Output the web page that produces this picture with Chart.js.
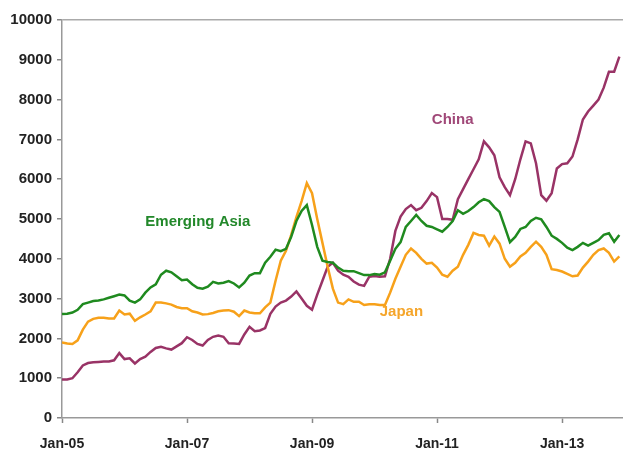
<!DOCTYPE html>
<html>
<head>
<meta charset="utf-8">
<script src="https://cdn.jsdelivr.net/npm/chart.js@4/dist/chart.umd.min.js"></script>
<style>
  html, body { margin: 0; padding: 0; background: #fff; }
  #wrap { width: 623px; height: 452px; }
</style>
</head>
<body>
<div id="wrap"><canvas id="c" width="623" height="452"></canvas></div>
<script>
// Monthly, Jan-05 .. Dec-13
const months = [];
const monNames = ['Jan','Feb','Mar','Apr','May','Jun','Jul','Aug','Sep','Oct','Nov','Dec'];
for (let y = 5; y <= 13; y++) for (let m = 0; m < 12; m++) months.push(monNames[m] + '-' + String(y).padStart(2, '0'));

const emergingAsia = [
  2610,2620,2650,2720,2860,2900,2940,2950,2980,3020,3060,3100,
  3080,2950,2900,2980,3150,3280,3360,3600,3700,3660,3560,3460,
  3480,3360,3270,3250,3300,3420,3380,3400,3440,3380,3280,3400,
  3580,3640,3640,3900,4050,4230,4190,4250,4550,4950,5200,5350,
  4850,4300,3950,3920,3900,3780,3700,3690,3690,3640,3590,3590,
  3620,3600,3660,3950,4250,4420,4800,4950,5100,4950,4830,4800,
  4740,4680,4800,4950,5220,5130,5200,5300,5420,5500,5450,5300,
  5180,4800,4420,4550,4750,4800,4950,5030,4990,4800,4580,4500,
  4400,4280,4220,4300,4400,4330,4400,4470,4600,4640,4430,4600
];
const japan = [
  1900,1870,1860,1950,2220,2420,2490,2520,2520,2500,2500,2700,
  2600,2620,2440,2530,2600,2680,2900,2900,2880,2850,2790,2760,
  2760,2680,2650,2600,2610,2640,2680,2700,2710,2670,2560,2700,
  2650,2630,2630,2780,2900,3450,3950,4200,4600,5050,5450,5900,
  5650,5000,4400,3800,3250,2900,2860,2980,2920,2920,2840,2860,
  2860,2840,2840,3150,3500,3800,4100,4260,4150,4000,3880,3900,
  3780,3600,3550,3700,3800,4100,4350,4650,4600,4580,4330,4560,
  4380,4000,3800,3900,4060,4150,4300,4430,4300,4100,3740,3720,
  3680,3620,3560,3580,3780,3930,4100,4220,4260,4150,3930,4060
];
const china = [
  970,970,1000,1150,1320,1380,1400,1410,1420,1420,1450,1630,
  1480,1500,1370,1480,1540,1660,1760,1790,1750,1720,1800,1880,
  2030,1960,1860,1820,1960,2040,2070,2040,1880,1870,1860,2100,
  2290,2180,2200,2260,2620,2800,2900,2950,3050,3180,3000,2820,
  2720,3100,3450,3800,3900,3700,3600,3550,3430,3350,3320,3550,
  3570,3550,3560,4000,4700,5060,5250,5350,5220,5280,5450,5650,
  5550,5000,5000,4980,5500,5750,6000,6250,6500,6950,6800,6600,
  6050,5800,5600,6000,6500,6950,6900,6400,5600,5460,5650,6270,
  6380,6400,6570,7000,7500,7700,7850,8000,8300,8700,8700,9080
];
const yTicks = [0,1000,2000,3000,4000,5000,6000,7000,8000,9000,10000];
const xTickMonths = ['Jan-05','Jan-07','Jan-09','Jan-11','Jan-13'];

const seriesNames = ['Emerging Asia', 'Japan', 'China'];
const colors = { 'Emerging Asia': '#1f8a1f', 'Japan': '#f7a11a', 'China': '#993366' };
const textColors = { 'Emerging Asia': '#22882a', 'Japan': '#f5a52a', 'China': '#a04878' };
// label anchor in data space: [month label, value]
const labelAnchors = { 'Emerging Asia': ['May-06', 4920], 'China': ['Dec-10', 7490], 'Japan': ['Feb-10', 2660] };

const toXY = arr => arr.map((v, i) => ({ x: i, y: v }));
const FONT = '"Liberation Sans", Arial, sans-serif';

const seriesLabels = {
  id: 'seriesLabels',
  afterDatasetsDraw(chart) {
    const { ctx, scales: { x, y } } = chart;
    ctx.save();
    ctx.font = 'bold 15px ' + FONT;
    ctx.textAlign = 'left';
    ctx.textBaseline = 'middle';
    for (const name of seriesNames) {
      const [m, v] = labelAnchors[name];
      ctx.fillStyle = textColors[name];
      ctx.fillText(name, x.getPixelForValue(months.indexOf(m)), y.getPixelForValue(v));
    }
    ctx.restore();
  }
};

new Chart(document.getElementById('c'), {
  type: 'line',
  data: {
    datasets: [
      { label: 'Emerging Asia', data: toXY(emergingAsia) },
      { label: 'Japan', data: toXY(japan) },
      { label: 'China', data: toXY(china) }
    ].map(d => Object.assign(d, {
      borderColor: colors[d.label], backgroundColor: colors[d.label],
      borderWidth: 2.5, pointRadius: 0, tension: 0, fill: false
    }))
  },
  options: {
    responsive: false,
    animation: false,
    layout: { padding: { top: 20, right: 0, left: 0, bottom: 0 } },
    plugins: { legend: { display: false }, tooltip: { enabled: false } },
    scales: {
      x: {
        type: 'linear',
        min: 0,
        max: 107.7,
        afterBuildTicks: s => { s.ticks = xTickMonths.map(l => ({ value: months.indexOf(l) })); },
        afterFit: s => { s.height = 34; },
        ticks: {
          callback: v => months[v],
          font: { family: FONT, size: 14, weight: 'bold' },
          color: '#222',
          padding: 13,
          maxRotation: 0,
          autoSkip: false
        },
        grid: { display: true, drawOnChartArea: false, drawTicks: true, tickLength: 5, tickColor: '#888', tickWidth: 1.5 },
        border: { display: true, color: '#999', width: 1.5 }
      },
      y: {
        min: 0,
        max: 10000,
        afterBuildTicks: s => { s.ticks = yTicks.map(v => ({ value: v })); },
        afterFit: s => { s.width = 62; },
        ticks: {
          callback: v => String(v),
          font: { family: FONT, size: 15, weight: 'bold' },
          color: '#222',
          padding: 5
        },
        grid: {
          drawOnChartArea: true,
          drawTicks: true,
          tickLength: 5,
          tickColor: '#888',
          color: c => (c.tick && c.tick.value === 10000) ? '#aaaaaa' : 'rgba(0,0,0,0)',
          lineWidth: 1.5
        },
        border: { display: true, color: '#999', width: 1.5 }
      }
    }
  },
  plugins: [seriesLabels]
});
</script>
</body>
</html>
